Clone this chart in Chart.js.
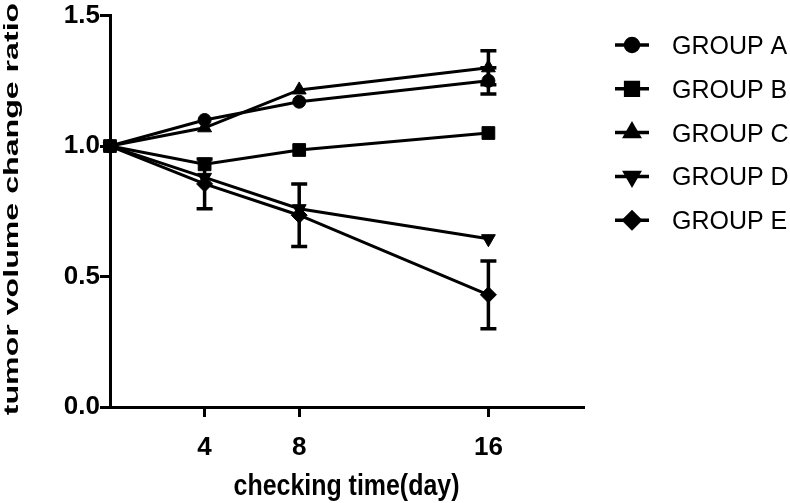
<!DOCTYPE html>
<html>
<head>
<meta charset="utf-8">
<script src="https://cdn.jsdelivr.net/npm/chart.js@4.4.0/dist/chart.umd.min.js"></script>
<style>
    html, body { margin: 0; padding: 0; background: #fff; }
    #wrap { width: 790px; height: 503px; position: relative; }
</style>
</head>
<body>
<div id="wrap"><canvas id="tumorChart"></canvas></div>
<script>
// Dữ liệu
const days = [0, 4, 8, 16];
const xTicks = [4, 8, 16];
const groupNames = ['GROUP A', 'GROUP B', 'GROUP C', 'GROUP D', 'GROUP E'];

const groupA = [1.00, 1.10, 1.17, 1.25];
const groupB = [1.00, 0.93, 0.985, 1.05];
const groupC = [1.00, 1.07, 1.215, 1.30];
const groupD = [1.00, 0.88, 0.76, 0.645];
const groupE = [1.00, 0.855, 0.735, 0.43];

const groupAErr = [0, 0, 0, 0.05];
const groupBErr = [0, 0, 0, 0];
const groupCErr = [0, 0, 0, 0.065];
const groupDErr = [0, 0, 0, 0];
const groupEErr = [0, 0.095, 0.12, 0.13];

const xTitle = 'checking time(day)';
const yTitle = 'tumor volume change ratio';

Chart.defaults.font.family = '"Liberation Sans", Arial, sans-serif';
Chart.defaults.color = '#000';

function makeDataset(label, values, errs, style, radius, rotation) {
    return {
        label: label,
        data: values.map((v, i) => ({ x: days[i], y: v })),
        errors: errs,
        borderColor: '#000',
        backgroundColor: '#000',
        borderWidth: 3,
        pointStyle: style,
        pointRadius: radius,
        pointRotation: rotation,
        pointBackgroundColor: '#000',
        pointBorderColor: '#000',
        pointBorderWidth: 1,
        tension: 0,
        clip: false
    };
}

const datasets = [
    makeDataset(groupNames[0], groupA, groupAErr, 'circle', 6.5, 0),
    makeDataset(groupNames[1], groupB, groupBErr, 'rect', 9, 0),
    makeDataset(groupNames[2], groupC, groupCErr, 'triangle', 8, 0),
    makeDataset(groupNames[3], groupD, groupDErr, 'triangle', 8, 180),
    makeDataset(groupNames[4], groupE, groupEErr, 'rectRot', 8, 0)
];

// Vẽ thanh sai số
const errorBars = {
    id: 'errorBars',
    afterDatasetsDraw(chart) {
        const ctx = chart.ctx;
        const xs = chart.scales.x, ys = chart.scales.y;
        ctx.save();
        ctx.strokeStyle = '#000';
        ctx.lineWidth = 3.5;
        chart.data.datasets.forEach(ds => {
            ds.errors.forEach((e, i) => {
                if (!e) return;
                const v = ds.data[i].y;
                const x = xs.getPixelForValue(days[i]);
                const top = ys.getPixelForValue(v + e);
                const bot = ys.getPixelForValue(v - e);
                ctx.beginPath();
                ctx.moveTo(x, top); ctx.lineTo(x, bot);
                ctx.moveTo(x - 8, top); ctx.lineTo(x + 8, top);
                ctx.moveTo(x - 8, bot); ctx.lineTo(x + 8, bot);
                ctx.stroke();
            });
        });
        ctx.restore();
    }
};

// Tiêu đề trục và chú thích
const titlesAndLegend = {
    id: 'titlesAndLegend',
    afterDraw(chart) {
        const ctx = chart.ctx;
        const area = chart.chartArea;
        ctx.save();
        ctx.fillStyle = '#000';

        // tiêu đề trục x
        ctx.save();
        ctx.translate((area.left + area.right) / 2, 495);
        ctx.scale(0.86, 1);
        ctx.font = 'bold 29px "Liberation Sans", Arial, sans-serif';
        ctx.textAlign = 'center';
        ctx.textBaseline = 'alphabetic';
        ctx.fillText(xTitle, 0, 0);
        ctx.restore();

        // tiêu đề trục y
        ctx.save();
        ctx.translate(18, 209);
        ctx.rotate(-Math.PI / 2);
        ctx.scale(1.53, 1);
        ctx.font = 'bold 21px "Liberation Sans", Arial, sans-serif';
        ctx.textAlign = 'center';
        ctx.textBaseline = 'alphabetic';
        ctx.fillText(yTitle, 0, 0);
        ctx.restore();

        // chú thích
        chart.data.datasets.forEach((ds, i) => {
            const y = 45 + i * 43.8;
            ctx.strokeStyle = '#000';
            ctx.lineWidth = 3.5;
            ctx.beginPath();
            ctx.moveTo(615, y);
            ctx.lineTo(649, y);
            ctx.stroke();
            Chart.helpers.drawPoint(ctx, {
                pointStyle: ds.pointStyle,
                radius: ds.pointRadius,
                rotation: ds.pointRotation,
                borderWidth: 1
            }, 632, y);
            ctx.fill();
            ctx.font = '25px "Liberation Sans", Arial, sans-serif';
            ctx.textAlign = 'left';
            ctx.textBaseline = 'alphabetic';
            ctx.fillText(ds.label, 672, y + 9);
        });
        ctx.restore();
    }
};

new Chart(document.getElementById('tumorChart'), {
    type: 'line',
    data: { datasets: datasets },
    options: {
        responsive: true,
        maintainAspectRatio: false,
        animation: false,
        layout: { padding: { left: 0, top: 15, right: 207, bottom: 0 } },
        plugins: {
            legend: { display: false },
            tooltip: { enabled: false }
        },
        scales: {
            x: {
                type: 'linear',
                min: 0,
                max: 20,
                afterBuildTicks: scale => { scale.ticks = xTicks.map(v => ({ value: v })); },
                afterFit: scale => { scale.height = 96; },
                ticks: {
                    font: { size: 26, weight: 'bold' },
                    color: '#000',
                    padding: 15,
                    maxRotation: 0
                },
                grid: {
                    display: true,
                    drawOnChartArea: false,
                    drawTicks: true,
                    tickLength: 10,
                    lineWidth: 3,
                    color: '#000'
                },
                border: { display: true, width: 3, color: '#000' }
            },
            y: {
                min: 0,
                max: 1.5,
                afterFit: scale => { scale.width = 110; },
                ticks: {
                    stepSize: 0.5,
                    font: { size: 26, weight: 'bold' },
                    color: '#000',
                    padding: 0,
                    callback: v => v.toFixed(1)
                },
                grid: {
                    display: true,
                    drawOnChartArea: false,
                    drawTicks: true,
                    tickLength: 10,
                    lineWidth: 3,
                    color: '#000'
                },
                border: { display: true, width: 3, color: '#000' }
            }
        }
    },
    plugins: [errorBars, titlesAndLegend]
});
</script>
</body>
</html>
